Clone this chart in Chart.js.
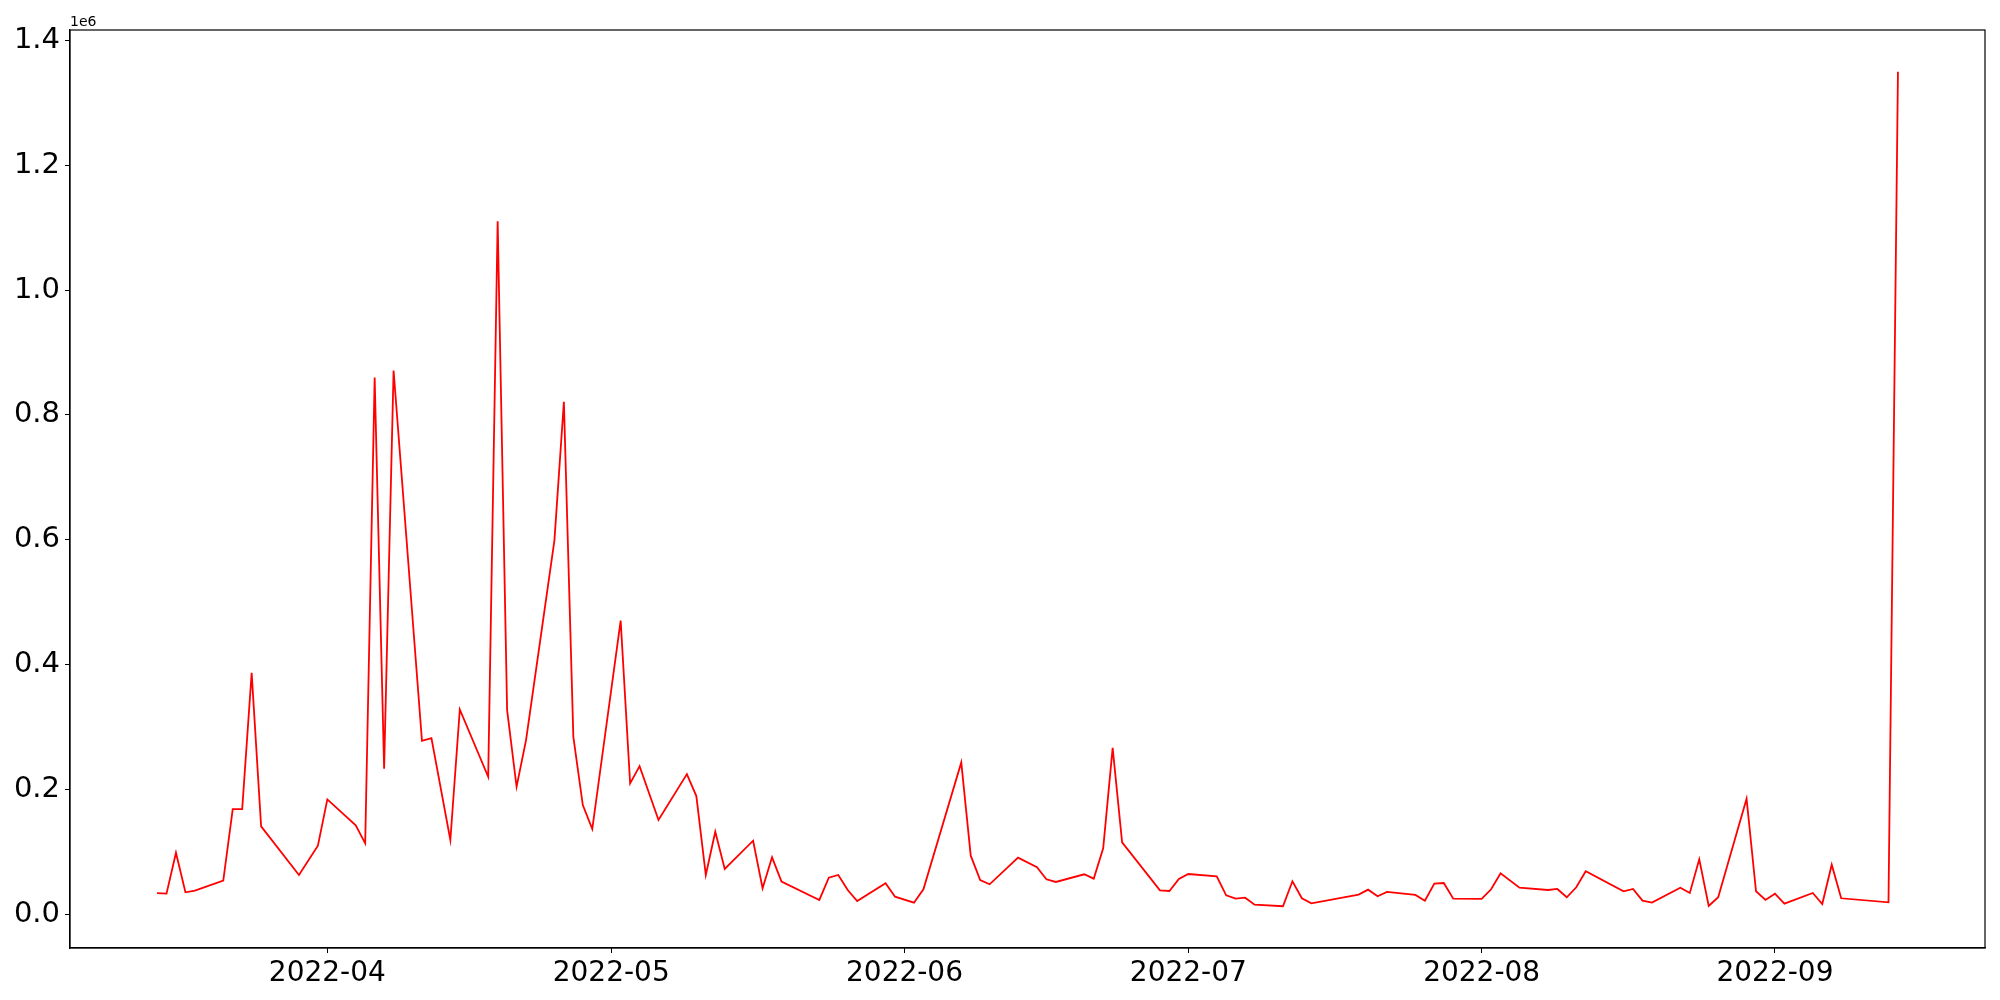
<!DOCTYPE html>
<html>
<head>
<meta charset="utf-8">
<script src="https://cdn.jsdelivr.net/npm/chart.js@4/dist/chart.umd.min.js"></script>
<style>
  body { margin: 0; background: #ffffff; }
  #grafica { display: block; }
</style>
</head>
<body>
<canvas id="grafica" width="2000" height="1000"></canvas>
<script>
// ---------------------------------------------------------------------------------
// DATA
// ---------------------------------------------------------------------------------
var fechas = [
    '2022-03-14', '2022-03-15', '2022-03-16', '2022-03-17', '2022-03-18', '2022-03-21',
    '2022-03-22', '2022-03-23', '2022-03-24', '2022-03-25', '2022-03-29', '2022-03-31',
    '2022-04-01', '2022-04-04', '2022-04-05', '2022-04-06', '2022-04-07', '2022-04-08',
    '2022-04-11', '2022-04-12', '2022-04-14', '2022-04-15', '2022-04-18', '2022-04-19',
    '2022-04-20', '2022-04-21', '2022-04-22', '2022-04-25', '2022-04-26', '2022-04-27',
    '2022-04-28', '2022-04-29', '2022-05-02', '2022-05-03', '2022-05-04', '2022-05-06',
    '2022-05-09', '2022-05-10', '2022-05-11', '2022-05-12', '2022-05-13', '2022-05-16',
    '2022-05-17', '2022-05-18', '2022-05-19', '2022-05-23', '2022-05-24', '2022-05-25',
    '2022-05-26', '2022-05-27', '2022-05-30', '2022-05-31', '2022-06-02', '2022-06-03',
    '2022-06-07', '2022-06-08', '2022-06-09', '2022-06-10', '2022-06-13', '2022-06-15',
    '2022-06-16', '2022-06-17', '2022-06-20', '2022-06-21', '2022-06-22', '2022-06-23',
    '2022-06-24', '2022-06-28', '2022-06-29', '2022-06-30', '2022-07-01', '2022-07-04',
    '2022-07-05', '2022-07-06', '2022-07-07', '2022-07-08', '2022-07-11', '2022-07-12',
    '2022-07-13', '2022-07-14', '2022-07-19', '2022-07-20', '2022-07-21', '2022-07-22',
    '2022-07-25', '2022-07-26', '2022-07-27', '2022-07-28', '2022-07-29', '2022-08-01',
    '2022-08-02', '2022-08-03', '2022-08-05', '2022-08-08', '2022-08-09', '2022-08-10',
    '2022-08-11', '2022-08-12', '2022-08-16', '2022-08-17', '2022-08-18', '2022-08-19',
    '2022-08-22', '2022-08-23', '2022-08-24', '2022-08-25', '2022-08-26', '2022-08-29',
    '2022-08-30', '2022-08-31', '2022-09-01', '2022-09-02', '2022-09-05', '2022-09-06',
    '2022-09-07', '2022-09-08', '2022-09-13', '2022-09-14'
];

var valores = [
    34000, 33300, 98900, 35500, 38100, 54100,
    168800, 168800, 386900, 141100, 63200, 110100,
    184300, 142700, 113900, 860000, 233300, 871200,
    278100, 282400, 119200, 328300, 220500, 1110100,
    327200, 204500, 279200, 599200, 821100, 284500,
    175200, 136800, 470700, 209900, 237600, 151200,
    224800, 189600, 63200, 132500, 72800, 118100,
    41900, 91500, 52500, 23200, 58900, 63200,
    39200, 21600, 49900, 28500, 18900, 40300,
    243500, 94100, 55200, 48300, 90900, 75500,
    56300, 52000, 64300, 57300, 105900, 266900,
    115500, 38700, 37600, 56800, 64800, 61100,
    30700, 25300, 26900, 15700, 13100, 53100,
    25900, 17900, 31700, 39700, 29100, 36000,
    31200, 22100, 49300, 50400, 25300, 24800,
    40300, 65900, 42900, 39200, 40800, 27500,
    43500, 69100, 37100, 40800, 22100, 18900,
    42900, 34400, 88300, 13600, 27500, 185300,
    37100, 23200, 33300, 17300, 34400, 16800,
    79700, 25900, 19500, 1349600
];

// Etiquetas de los ejes
var etiquetasX = ['2022-04', '2022-05', '2022-06', '2022-07', '2022-08', '2022-09'];
var ticksY = [0, 200000, 400000, 600000, 800000, 1000000, 1200000, 1400000];

// ---------------------------------------------------------------------------------
// HELPERS
// ---------------------------------------------------------------------------------
// Convierte 'YYYY-MM-DD' (o 'YYYY-MM') a numero de dias
function aDias(s) {
    var p = s.split('-');
    var d = Date.UTC(+p[0], +p[1] - 1, p[2] ? +p[2] : 1);
    return d / 86400000;
}

var puntos = fechas.map(function(f, i) { return { x: aDias(f), y: valores[i] }; });
var ticksX = etiquetasX.map(aDias);

// Margenes del 5% como en matplotlib
var xMin = puntos[0].x, xMax = puntos[puntos.length - 1].x;
var xPad = (xMax - xMin) * 0.05;
var yMinD = Math.min.apply(null, valores), yMaxD = Math.max.apply(null, valores);
var yPad = (yMaxD - yMinD) * 0.05;

var fuente = 'DejaVu Sans';

// Marco y texto de escala "1e6"
var marco = {
    id: 'marco',
    afterDraw: function(chart) {
        var a = chart.chartArea;
        var ctx = chart.ctx;
        ctx.save();
        ctx.strokeStyle = '#000000';
        ctx.lineWidth = 1.2;
        ctx.strokeRect(a.left, a.top, a.right - a.left, a.bottom - a.top);
        ctx.fillStyle = '#000000';
        ctx.font = '14px "' + fuente + '"';
        ctx.textAlign = 'left';
        ctx.textBaseline = 'alphabetic';
        ctx.fillText('1e6', a.left, a.top - 4);
        ctx.restore();
    }
};

// ---------------------------------------------------------------------------------
// CHART
// ---------------------------------------------------------------------------------
var ctx = document.getElementById('grafica').getContext('2d');
var grafica = new Chart(ctx, {
    type: 'line',
    data: {
        datasets: [{
            data: puntos,
            borderColor: '#ff0000',
            backgroundColor: '#ff0000',
            borderWidth: 1.8,
            pointRadius: 0,
            tension: 0,
            fill: false
        }]
    },
    options: {
        responsive: false,
        animation: false,
        layout: { padding: { top: 30, right: 15, left: 0, bottom: 0 } },
        plugins: {
            legend: { display: false },
            tooltip: { enabled: false }
        },
        scales: {
            x: {
                type: 'linear',
                min: xMin - xPad,
                max: xMax + xPad,
                afterBuildTicks: function(scale) {
                    scale.ticks = ticksX.map(function(v) { return { value: v }; });
                },
                afterFit: function(scale) { scale.height = 52; },
                ticks: {
                    autoSkip: false,
                    maxRotation: 0,
                    padding: 4,
                    color: '#000000',
                    font: { family: fuente, size: 28 },
                    callback: function(value, index) { return etiquetasX[index]; }
                },
                grid: {
                    drawOnChartArea: false,
                    drawTicks: true,
                    tickLength: 5,
                    tickColor: '#000000',
                    tickWidth: 1
                },
                border: { display: true, color: '#000000', width: 1.2 }
            },
            y: {
                type: 'linear',
                min: yMinD - yPad,
                max: yMaxD + yPad,
                afterBuildTicks: function(scale) {
                    scale.ticks = ticksY.map(function(v) { return { value: v }; });
                },
                afterFit: function(scale) { scale.width = 70; },
                ticks: {
                    autoSkip: false,
                    padding: 5,
                    color: '#000000',
                    font: { family: fuente, size: 29 },
                    callback: function(value) { return (value / 1e6).toFixed(1); }
                },
                grid: {
                    drawOnChartArea: false,
                    drawTicks: true,
                    tickLength: 5,
                    tickColor: '#000000',
                    tickWidth: 1
                },
                border: { display: true, color: '#000000', width: 1.2 }
            }
        }
    },
    plugins: [marco]
});
</script>
</body>
</html>
